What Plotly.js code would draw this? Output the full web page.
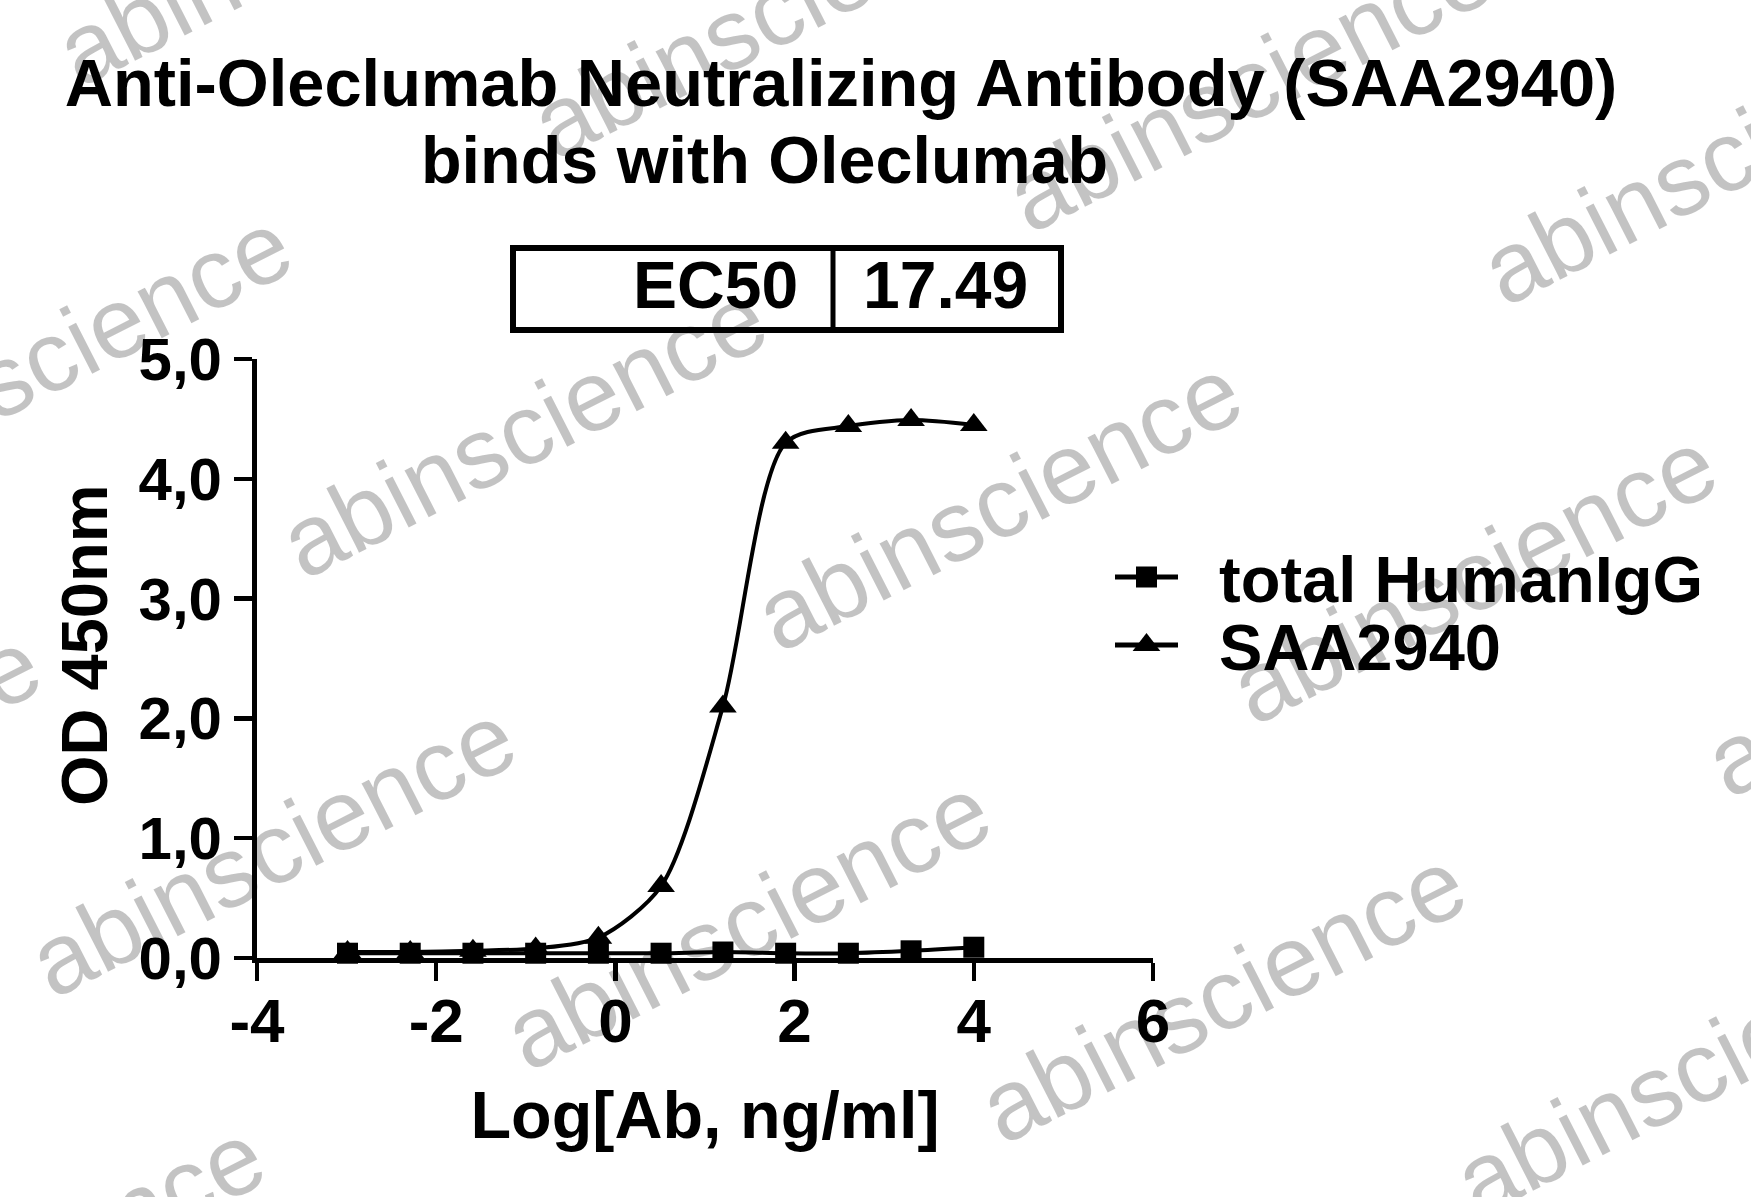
<!DOCTYPE html>
<html>
<head>
<meta charset="utf-8">
<script src="https://cdn.plot.ly/plotly-3.0.1.min.js"></script>
<style>
  html, body { margin: 0; padding: 0; background: #ffffff; }
  #chart { width: 1751px; height: 1197px; }
</style>
</head>
<body>
<div id="chart"></div>
<script>
// ---- data ----
const logConc = [-2.99, -2.29, -1.59, -0.89, -0.19, 0.51, 1.20, 1.90, 2.60, 3.30, 4.00];
const saa2940 = [0.05, 0.05, 0.06, 0.08, 0.17, 0.60, 2.10, 4.30, 4.44, 4.49, 4.45];
const totalHumanIgG = [0.04, 0.04, 0.04, 0.04, 0.04, 0.04, 0.05, 0.04, 0.04, 0.06, 0.09];
const seriesNames = ['total HumanIgG', 'SAA2940'];
const xTickVals = [-4, -2, 0, 2, 4, 6];
const xTickText = ['-4', '-2', '0', '2', '4', '6'];
const yTickVals = [0, 1, 2, 3, 4, 5];
const yTickText = ['0,0', '1,0', '2,0', '3,0', '4,0', '5,0'];
const ec50Label = 'EC50';
const ec50Value = '17.49';
const titleLine1 = 'Anti-Oleclumab Neutralizing Antibody (SAA2940)';
const titleLine2 = 'binds with Oleclumab';
const xTitle = 'Log[Ab, ng/ml]';
const yTitle = 'OD 450nm';
const watermark = 'abinscience';

// ---- layout geometry (pixels) ----
const W = 1751, H = 1197;
const L = 257, R = 1153, T = 359, B = 958;
const px = v => (v - L) / (R - L);
const py = v => (B - v) / (B - T);
const FAM = 'Liberation Sans, Arial, Helvetica, sans-serif';
const boldFont = (s) => ({family: FAM, size: s, color: '#000000', weight: 700});

const annotations = [];
// watermark grid
for (let i = -1; i <= 3; i++) {
  for (let j = -1; j <= 2; j++) {
    const cx = 523 + 475 * i - 251 * j;
    const cy = 430 + 73 * i + 419 * j;
    if (cx + 280 < 0 || cx - 280 > W || cy + 170 < 0 || cy - 170 > H) continue;
    annotations.push({
      xref: 'paper', yref: 'paper', x: px(cx), y: py(cy),
      xanchor: 'center', yanchor: 'middle', showarrow: false,
      text: watermark, textangle: -27,
      font: {family: FAM, size: 100, color: 'rgba(0,0,0,0.235)'}
    });
  }
}
annotations.push({
  xref: 'paper', yref: 'paper', x: px(764), y: py(160),
  xanchor: 'center', yanchor: 'middle', showarrow: false,
  text: titleLine2, font: boldFont(66.5)
});
annotations.push({
  xref: 'paper', yref: 'paper', x: px(800), y: py(285),
  xanchor: 'right', yanchor: 'middle', showarrow: false,
  text: ec50Label, font: boldFont(66)
});
annotations.push({
  xref: 'paper', yref: 'paper', x: px(945), y: py(285),
  xanchor: 'center', yanchor: 'middle', showarrow: false,
  text: ec50Value, font: boldFont(66)
});
// y-axis title (placed as in the reference, slightly above the plot centre)
annotations.push({
  xref: 'paper', yref: 'paper', x: px(84), y: py(645),
  xanchor: 'center', yanchor: 'middle', showarrow: false,
  text: yTitle, textangle: -90, font: boldFont(65)
});

const shapes = [
  {type: 'rect', xref: 'paper', yref: 'paper', x0: px(513), x1: px(1061), y0: py(330), y1: py(248),
   line: {color: '#000000', width: 6}, fillcolor: 'rgba(0,0,0,0)'},
  {type: 'line', xref: 'paper', yref: 'paper', x0: px(833), x1: px(833), y0: py(330), y1: py(248),
   line: {color: '#000000', width: 5}}
];

const traces = [
  {
    x: logConc, y: totalHumanIgG, name: '\u00a0\u00a0' + seriesNames[0],
    type: 'scatter', mode: 'lines+markers', cliponaxis: false,
    line: {color: '#000000', width: 4, shape: 'spline', smoothing: 0.8},
    marker: {symbol: 'square', size: 21, color: '#000000'}
  },
  {
    x: logConc, y: saa2940, name: '\u00a0\u00a0' + seriesNames[1],
    type: 'scatter', mode: 'lines+markers', cliponaxis: false,
    line: {color: '#000000', width: 4, shape: 'spline', smoothing: 0.8},
    marker: {symbol: 'triangle-up', size: 24, color: '#000000'}
  }
];

const layout = {
  width: W, height: H,
  paper_bgcolor: '#ffffff', plot_bgcolor: '#ffffff',
  margin: {l: L, r: W - R, t: T, b: H - B, pad: 0, autoexpand: false},
  title: {
    text: titleLine1, font: boldFont(66.8),
    xref: 'container', yref: 'container', x: 841 / W, y: 1 - 83 / H,
    xanchor: 'center', yanchor: 'middle'
  },
  xaxis: {
    range: [-4, 6], tickmode: 'array', tickvals: xTickVals, ticktext: xTickText,
    showline: true, linecolor: '#000000', linewidth: 5,
    ticks: 'outside', ticklen: 18, tickwidth: 4.5, tickcolor: '#000000',
    showgrid: false, zeroline: false, tickfont: boldFont(62),
    ticklabelstandoff: -13,
    title: {text: xTitle, font: boldFont(66.5), standoff: 39},
    automargin: false, fixedrange: true
  },
  yaxis: {
    range: [0, 5], tickmode: 'array', tickvals: yTickVals, ticktext: yTickText,
    showline: true, linecolor: '#000000', linewidth: 5,
    ticks: 'outside', ticklen: 18, tickwidth: 4.5, tickcolor: '#000000',
    showgrid: false, zeroline: false, tickfont: boldFont(60),
    ticklabelstandoff: 0,
    automargin: false, fixedrange: true
  },
  showlegend: true,
  legend: {
    x: px(1110), y: py(611), xanchor: 'left', yanchor: 'middle',
    font: boldFont(65), itemwidth: 63, bgcolor: 'rgba(0,0,0,0)',
    borderwidth: 0, tracegroupgap: 0
  },
  annotations: annotations,
  shapes: shapes
};

Plotly.newPlot('chart', traces, layout, {displayModeBar: false, staticPlot: true}).then(function (gd) {
  // legend: tighter row spacing, full-size symbols and thicker lines like the reference
  const items = gd.querySelectorAll('.legend .traces');
  const parse = t => { const m = /translate\(([-\d.]+)[ ,]+([-\d.]+)\)/.exec(t || ''); return m ? [parseFloat(m[1]), parseFloat(m[2])] : [0, 0]; };
  if (items.length === 2) {
    const a = parse(items[0].getAttribute('transform'));
    const b = parse(items[1].getAttribute('transform'));
    const mid = (a[1] + b[1]) / 2;
    items[0].setAttribute('transform', 'translate(' + a[0] + ',' + (mid - 34) + ')');
    items[1].setAttribute('transform', 'translate(' + b[0] + ',' + (mid + 34) + ')');
  }
  const plotTraces = gd.querySelectorAll('.scatterlayer .trace');
  items.forEach(function (item, k) {
    const src = plotTraces[k] ? plotTraces[k].querySelector('.points path') : null;
    item.querySelectorAll('.legendpoints path').forEach(function (p) {
      if (src) p.setAttribute('d', src.getAttribute('d'));
    });
    item.querySelectorAll('.legendlines path').forEach(function (p) {
      p.style.strokeWidth = '5px';
    });
  });
});
</script>
</body>
</html>
